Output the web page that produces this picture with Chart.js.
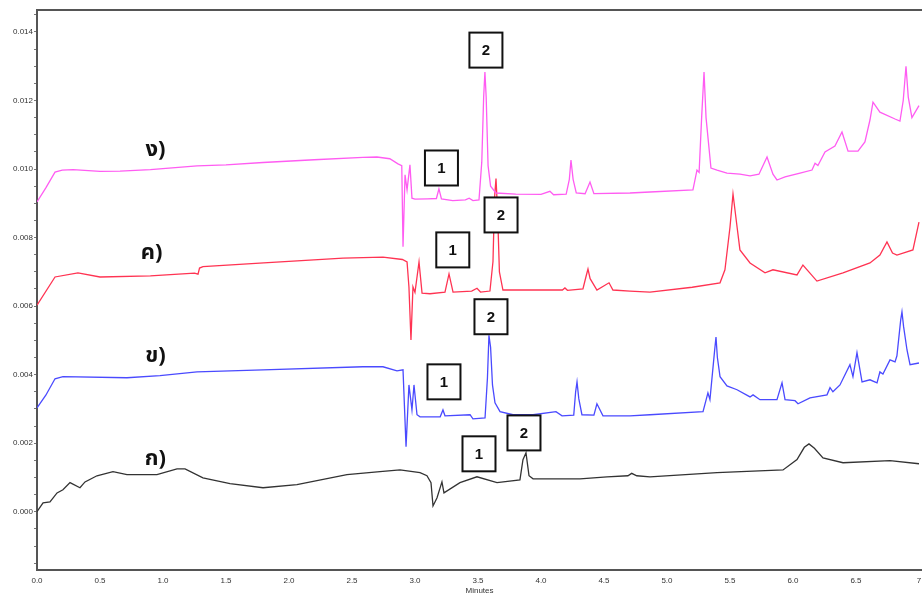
<!DOCTYPE html>
<html>
<head>
<meta charset="utf-8">
<script src="https://cdn.jsdelivr.net/npm/chart.js@4.4.0/dist/chart.umd.min.js"></script>
<style>
  html, body { margin: 0; padding: 0; background: #fff; }
  #wrap { width: 922px; height: 596px; position: relative; }
</style>
</head>
<body>
<div id="wrap"><canvas id="myChart"></canvas></div>
<script>
// retention times (minutes) and absorbance for each sample trace
const nguTimes = [0, 0.07, 0.143, 0.2, 0.286, 0.5, 0.659, 0.9, 1.27, 1.5, 1.794, 2.2, 2.587, 2.698, 2.8, 2.865, 2.895, 2.905, 2.921, 2.937, 2.96, 2.976, 3.0, 3.1, 3.17, 3.19, 3.21, 3.3, 3.4, 3.43, 3.46, 3.508, 3.53, 3.545, 3.555, 3.565, 3.58, 3.6, 3.643, 3.8, 4.0, 4.071, 4.1, 4.2, 4.225, 4.238, 4.255, 4.28, 4.35, 4.389, 4.42, 4.706, 4.865, 5.206, 5.238, 5.255, 5.275, 5.294, 5.31, 5.349, 5.397, 5.476, 5.579, 5.659, 5.73, 5.794, 5.841, 5.873, 5.937, 6.056, 6.151, 6.175, 6.198, 6.254, 6.333, 6.389, 6.437, 6.516, 6.571, 6.611, 6.635, 6.69, 6.81, 6.849, 6.875, 6.897, 6.915, 6.944, 7.0];
const nguValues = [0.00904, 0.00945, 0.00991, 0.00997, 0.00998, 0.00993, 0.00994, 0.00998, 0.01009, 0.01012, 0.01019, 0.01027, 0.01034, 0.01035, 0.0103, 0.01015, 0.0101, 0.00773, 0.00983, 0.00939, 0.01012, 0.00915, 0.00912, 0.00913, 0.00914, 0.00942, 0.00913, 0.00908, 0.0091, 0.00915, 0.00908, 0.0091, 0.0102, 0.0121, 0.01283, 0.0121, 0.0101, 0.0095, 0.0093, 0.00927, 0.00926, 0.00935, 0.00925, 0.00927, 0.0097, 0.01026, 0.0097, 0.0093, 0.00928, 0.00962, 0.00928, 0.0093, 0.00933, 0.00939, 0.00997, 0.0099, 0.0115, 0.01283, 0.0115, 0.01003, 0.00997, 0.00988, 0.00985, 0.0098, 0.00985, 0.01035, 0.00985, 0.00968, 0.00977, 0.00988, 0.00997, 0.01017, 0.0101, 0.0105, 0.01067, 0.01108, 0.01052, 0.01052, 0.01079, 0.01143, 0.01195, 0.01166, 0.01146, 0.0114, 0.012, 0.013, 0.0121, 0.0115, 0.01185];

const khwaiTimes = [0, 0.143, 0.325, 0.5, 0.9, 1.25, 1.278, 1.29, 1.317, 1.8, 2.429, 2.746, 2.9, 2.937, 2.952, 2.968, 2.984, 3.0, 3.032, 3.056, 3.119, 3.238, 3.27, 3.302, 3.45, 3.492, 3.52, 3.595, 3.619, 3.632, 3.643, 3.655, 3.67, 3.698, 4.0, 4.17, 4.19, 4.21, 4.333, 4.36, 4.373, 4.39, 4.444, 4.54, 4.571, 4.706, 4.865, 5.2, 5.421, 5.46, 5.5, 5.524, 5.56, 5.579, 5.659, 5.778, 5.841, 6.032, 6.079, 6.19, 6.397, 6.611, 6.69, 6.746, 6.79, 6.825, 6.952, 7.0];
const khwaiValues = [0.00603, 0.00685, 0.00697, 0.00685, 0.00688, 0.00696, 0.00693, 0.00711, 0.00715, 0.00726, 0.0074, 0.00743, 0.00736, 0.00729, 0.00656, 0.00501, 0.00656, 0.0064, 0.00729, 0.00638, 0.00636, 0.00641, 0.00694, 0.00641, 0.00644, 0.00652, 0.00641, 0.00644, 0.0073, 0.0092, 0.00972, 0.0088, 0.007, 0.00647, 0.00647, 0.00647, 0.00653, 0.00646, 0.0065, 0.0069, 0.00708, 0.0068, 0.00647, 0.00668, 0.00647, 0.00644, 0.00641, 0.00655, 0.00668, 0.00706, 0.0083, 0.00927, 0.0082, 0.00764, 0.00726, 0.00697, 0.00706, 0.00691, 0.0072, 0.00673, 0.00697, 0.00726, 0.00749, 0.00787, 0.00755, 0.00749, 0.00764, 0.00845];

const khaiTimes = [0, 0.07, 0.143, 0.206, 0.714, 0.976, 1.27, 1.794, 2.587, 2.746, 2.857, 2.905, 2.929, 2.952, 2.976, 2.992, 3.016, 3.04, 3.2, 3.222, 3.238, 3.437, 3.46, 3.556, 3.575, 3.587, 3.6, 3.615, 3.635, 3.675, 3.778, 3.937, 4.119, 4.167, 4.26, 4.275, 4.286, 4.3, 4.325, 4.42, 4.444, 4.492, 4.706, 4.865, 5.286, 5.325, 5.341, 5.378, 5.389, 5.4, 5.421, 5.476, 5.556, 5.659, 5.683, 5.738, 5.873, 5.913, 5.937, 6.016, 6.04, 6.135, 6.27, 6.294, 6.317, 6.373, 6.452, 6.476, 6.508, 6.548, 6.611, 6.667, 6.69, 6.714, 6.77, 6.81, 6.825, 6.855, 6.865, 6.878, 6.905, 6.929, 7.0];
const khaiValues = [0.00303, 0.0034, 0.00388, 0.00394, 0.00391, 0.00397, 0.00408, 0.00414, 0.00423, 0.00423, 0.00411, 0.00414, 0.0019, 0.0037, 0.00297, 0.0037, 0.00283, 0.00277, 0.00277, 0.00297, 0.0028, 0.00283, 0.00271, 0.00274, 0.0039, 0.00515, 0.0048, 0.0037, 0.00318, 0.00292, 0.00283, 0.00283, 0.00292, 0.0028, 0.00282, 0.0035, 0.00379, 0.0033, 0.00283, 0.00282, 0.00315, 0.0028, 0.0028, 0.00283, 0.00292, 0.00347, 0.00327, 0.0047, 0.0051, 0.0045, 0.00394, 0.00367, 0.00356, 0.00335, 0.00341, 0.00327, 0.00327, 0.00376, 0.00327, 0.00324, 0.00315, 0.00332, 0.00341, 0.00362, 0.0035, 0.0037, 0.00429, 0.00394, 0.00464, 0.00379, 0.00385, 0.00376, 0.00408, 0.00402, 0.00443, 0.00437, 0.00455, 0.0056, 0.00583, 0.0054, 0.00472, 0.00429, 0.00434];

const kaiTimes = [0, 0.048, 0.103, 0.159, 0.206, 0.262, 0.341, 0.381, 0.476, 0.603, 0.714, 0.952, 1.111, 1.175, 1.317, 1.532, 1.794, 2.063, 2.46, 2.722, 2.881, 3.04, 3.095, 3.127, 3.143, 3.175, 3.214, 3.23, 3.357, 3.492, 3.651, 3.833, 3.857, 3.881, 3.905, 3.937, 4.31, 4.524, 4.69, 4.72, 4.76, 4.865, 5.397, 5.921, 6.032, 6.09, 6.127, 6.17, 6.238, 6.397, 6.77, 7.0];
const kaiValues = [0, 0.00026, 0.00029, 0.00055, 0.00064, 0.00085, 0.0007, 0.00087, 0.00105, 0.00117, 0.00108, 0.00108, 0.00125, 0.00125, 0.00099, 0.00082, 0.0007, 0.00079, 0.00108, 0.00117, 0.00122, 0.00114, 0.00105, 0.00085, 0.00017, 0.00041, 0.00087, 0.00055, 0.00085, 0.00102, 0.00085, 0.00093, 0.00152, 0.00172, 0.00105, 0.00096, 0.00096, 0.00102, 0.00105, 0.00112, 0.00105, 0.00102, 0.00114, 0.00122, 0.00152, 0.00188, 0.00198, 0.00185, 0.00157, 0.00143, 0.00149, 0.0014];

// trace names written next to each line
const traceLabels = ["ง)", "ค)", "ข)", "ก)"];
const traceLabelTimes = [0.94, 0.91, 0.94, 0.94];
const traceLabelValues = [0.0105, 0.00749, 0.00449, 0.00149];

// numbered peak boxes
const peakNumbers = ["1", "2", "1", "2", "1", "2", "1", "2"];
const peakBoxTimes = [3.21, 3.563, 3.30, 3.683, 3.23, 3.603, 3.508, 3.865];
const peakBoxValues = [0.01003, 0.01347, 0.00764, 0.00866, 0.00379, 0.00569, 0.00169, 0.0023];

const yTickLabels = ["0.000", "0.002", "0.004", "0.006", "0.008", "0.010", "0.012", "0.014"];

function toPoints(xs, ys) {
  return xs.map((x, i) => ({ x: x, y: ys[i] }));
}

const annotate = {
  id: "annotate",
  afterDatasetsDraw(chart) {
    const c = chart.ctx;
    const xs = chart.scales.x;
    const ys = chart.scales.y;
    const area = chart.chartArea;
    c.save();
    // frame top line
    c.strokeStyle = "#555";
    c.lineWidth = 2;
    c.beginPath();
    c.moveTo(area.left, area.top);
    c.lineTo(area.right, area.top);
    c.stroke();

    c.fillStyle = "#111";
    c.font = "bold 22px 'Noto Sans Thai', 'Noto Sans', 'DejaVu Sans', sans-serif";
    c.textAlign = "center";
    c.textBaseline = "middle";
    traceLabels.forEach((t, i) => {
      c.fillText(t, xs.getPixelForValue(traceLabelTimes[i]), ys.getPixelForValue(traceLabelValues[i]));
    });

    const w = 33, h = 35;
    c.font = "bold 15px Arial, 'Liberation Sans', sans-serif";
    peakNumbers.forEach((n, i) => {
      const px = xs.getPixelForValue(peakBoxTimes[i]);
      const py = ys.getPixelForValue(peakBoxValues[i]);
      c.fillStyle = "#fff";
      c.fillRect(px - w / 2, py - h / 2, w, h);
      c.strokeStyle = "#111";
      c.lineWidth = 2;
      c.strokeRect(px - w / 2, py - h / 2, w, h);
      c.fillStyle = "#111";
      c.fillText(n, px, py + 1);
    });
    c.restore();
  },
};

const ctx = document.getElementById("myChart").getContext("2d");
const myChart = new Chart(ctx, {
  type: "line",
  data: {
    datasets: [
      { label: traceLabels[0], data: toPoints(nguTimes, nguValues), borderColor: "#ff5cf2" },
      { label: traceLabels[1], data: toPoints(khwaiTimes, khwaiValues), borderColor: "#ff3352" },
      { label: traceLabels[2], data: toPoints(khaiTimes, khaiValues), borderColor: "#4a4aff" },
      { label: traceLabels[3], data: toPoints(kaiTimes, kaiValues), borderColor: "#333333" },
    ],
  },
  options: {
    responsive: true,
    maintainAspectRatio: false,
    animation: false,
    layout: { padding: { top: 10, right: 0, left: 0, bottom: 0 } },
    elements: {
      point: { radius: 0 },
      line: { borderWidth: 1.3, tension: 0 },
    },
    plugins: {
      legend: { display: false },
      tooltip: { enabled: false },
    },
    scales: {
      x: {
        type: "linear",
        min: 0,
        max: 7.024,
        afterFit: (s) => {
          s.height = 26;
          s.paddingLeft = 0;
          s.paddingRight = 0;
        },
        afterBuildTicks: (s) => {
          s.ticks = [0, 0.5, 1, 1.5, 2, 2.5, 3, 3.5, 4, 4.5, 5, 5.5, 6, 6.5, 7].map((v) => ({ value: v }));
        },
        border: { color: "#555", width: 2 },
        grid: { drawOnChartArea: false, drawTicks: false },
        ticks: {
          color: "#333",
          font: { size: 8, family: "Arial, 'Liberation Sans', sans-serif" },
          padding: 6,
          maxRotation: 0,
          callback: (v) => v.toFixed(1).replace("7.0", "7"),
        },
        title: {
          display: true,
          text: "Minutes",
          color: "#333",
          font: { size: 8, family: "Arial, 'Liberation Sans', sans-serif" },
          padding: { top: 0, bottom: 0 },
        },
      },
      y: {
        type: "linear",
        min: -0.0017,
        max: 0.01464,
        afterFit: (s) => {
          s.width = 37;
          s.paddingTop = 0;
          s.paddingBottom = 0;
        },
        afterBuildTicks: (s) => {
          const t = [];
          for (let k = -3; k <= 29; k++) t.push({ value: k * 0.0005 });
          s.ticks = t;
        },
        border: { color: "#555", width: 2 },
        grid: { drawOnChartArea: false, tickLength: 3, color: "#777" },
        ticks: {
          color: "#333",
          font: { size: 8, family: "Arial, 'Liberation Sans', sans-serif" },
          padding: 1,
          autoSkip: false,
          callback: (v) => {
            const k = Math.round(v / 0.002);
            if (Math.abs(v - k * 0.002) < 1e-7 && k >= 0 && k < yTickLabels.length) return yTickLabels[k];
            return "";
          },
        },
      },
    },
  },
  plugins: [annotate],
});
</script>
</body>
</html>
